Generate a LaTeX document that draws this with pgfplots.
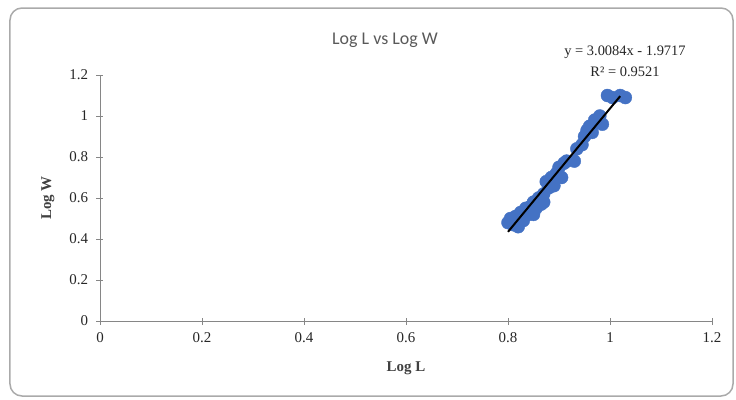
\documentclass[border=0pt]{standalone}
\usepackage{pgfplots}
\pgfplotsset{compat=1.18}
\usepackage{fontspec}
\setmainfont{Liberation Serif}
\newfontfamily\titlefont{Carlito}
\definecolor{ptblue}{RGB}{68,114,196}
\definecolor{axgray}{RGB}{134,134,134}
\definecolor{titlegray}{RGB}{89,89,89}
\begin{document}
\begin{tikzpicture}[x=1bp,y=1bp]
\useasboundingbox (-100,-78) rectangle (636,321);
\draw[axgray!70, line width=1.5bp, rounded corners=12bp] (-90,-75) rectangle (633,313);
\begin{axis}[
  at={(0,0)}, anchor=origin,
  scale only axis, width=612bp, height=246bp,
  xmin=0, xmax=1.2, ymin=0, ymax=1.2,
  xtick={0,0.2,...,1.2}, ytick={0,0.2,...,1.2},
  axis lines*=left,
  axis line style={axgray, line width=0.8bp, -},
  tick style={axgray, line width=0.8bp},
  tick align=center, major tick length=7bp,
  ticklabel style={font=\fontsize{15}{17}\selectfont, text=black!85},
  /pgf/number format/assume math mode=true,
  xticklabel style={yshift=-5bp},
  yticklabel style={xshift=-5bp},
  label style={font=\fontsize{15}{17}\selectfont\bfseries, text=black!75},
  xlabel={Log L}, ylabel={Log W},
  xlabel style={yshift=-12bp},
  ylabel style={yshift=8bp},
  clip marker paths=true,
]
\addplot[only marks, mark=*, mark size=6.5bp, mark options={fill=ptblue, draw=ptblue}] coordinates {
(0.800,0.48) (0.805,0.50) (0.810,0.47) (0.815,0.51) (0.820,0.50) (0.825,0.53)
(0.830,0.49) (0.835,0.55) (0.840,0.52) (0.845,0.56) (0.850,0.58) (0.855,0.55)
(0.860,0.60) (0.865,0.57) (0.870,0.62) (0.875,0.68) (0.880,0.65) (0.885,0.70)
(0.890,0.66) (0.895,0.72) (0.900,0.75) (0.905,0.70) (0.910,0.77) (0.915,0.78)
(0.930,0.78) (0.935,0.84) (0.945,0.86) (0.950,0.90) (0.955,0.93) (0.960,0.95)
(0.965,0.92) (0.970,0.98) (0.975,0.97) (0.980,1.00) (0.985,0.96) (0.995,1.10)
(1.005,1.09) (1.020,1.10) (1.030,1.09) (0.820,0.46) (0.850,0.52) (0.870,0.58)
};
\addplot[black, line width=2bp] coordinates {(0.800,0.4350) (1.020,1.0969)};
\end{axis}
\node[font=\titlefont\fontsize{18}{20}\selectfont, text=titlegray] at (285,281) {Log L vs Log W};
\node[font=\fontsize{14.5}{21}\selectfont, text=black!85, align=center] at (525,260) {y = 3.0084x - 1.9717\\R² = 0.9521};
\end{tikzpicture}
\end{document}
